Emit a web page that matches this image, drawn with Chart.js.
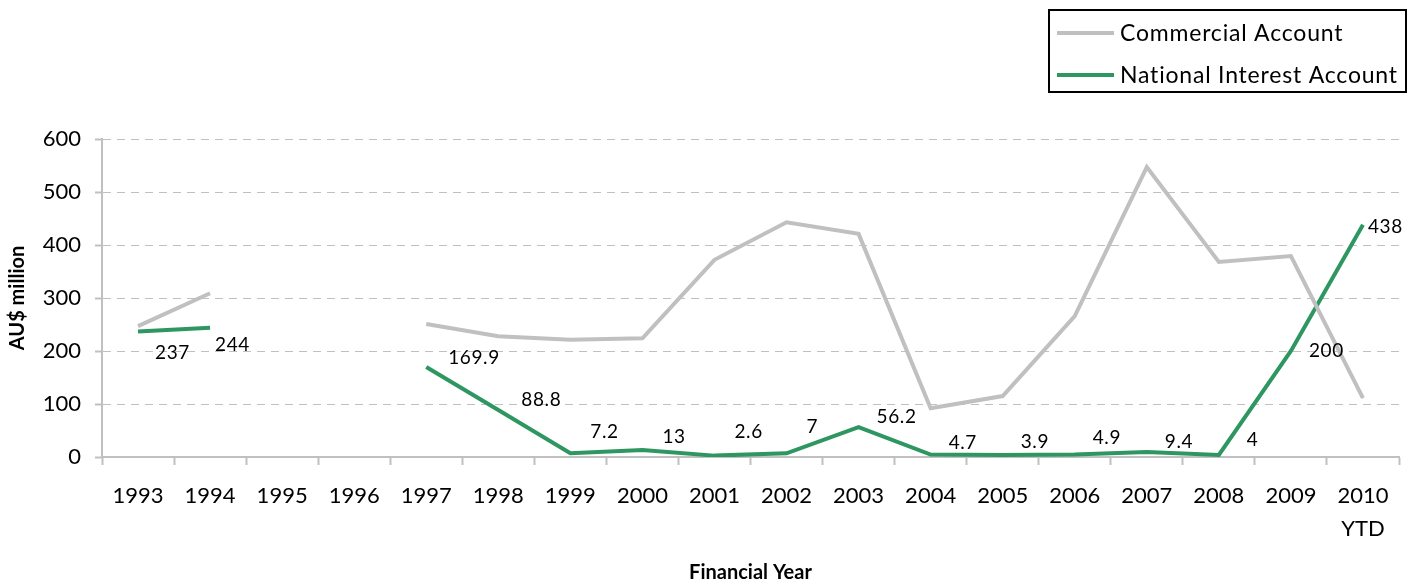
<!DOCTYPE html>
<html>
<head>
<meta charset="utf-8">
<script src="https://cdn.jsdelivr.net/npm/chart.js@4.4.1/dist/chart.umd.min.js"></script>
<style>
  html, body { margin: 0; padding: 0; background: #fff; }
  #wrap { position: relative; width: 1418px; height: 585px; }
</style>
</head>
<body>
<div id="wrap"><canvas id="myChart"></canvas></div>
<script>
const years = ["1993", "1994", "1995", "1996", "1997", "1998", "1999", "2000", "2001",
  "2002", "2003", "2004", "2005", "2006", "2007", "2008", "2009", ["2010", "YTD"]];
const commercial = [247, 309, null, null, 251, 228, 221, 224, 372,
  443, 421, 92, 115, 266, 547, 368, 379, 111];
const nationalInterest = [237, 244, null, null, 169.9, 88.8, 7.2, 13, 2.6,
  7, 56.2, 4.7, 3.9, 4.9, 9.4, 4, 200, 438];
const yTicks = [0, 100, 200, 300, 400, 500, 600];

// where each value label sits relative to its point (px)
const labelDx = [17, 5, 0, 0, 22, 23, 20, 20, 20, 20, 18, 18, 18, 18, 18, 28, 18, 5];
const labelDy = [21, 17, 0, 0, -9, -10, -21, -13, -24, -26, -10, -12, -13, -17, -10, -15, 0, 2];

const FONT = "Lato, 'Open Sans', sans-serif";
const GREY = "#c0c0c0";
const GREEN = "#2e9660";

const valueLabels = {
  id: "valueLabels",
  afterDatasetsDraw(chart) {
    const ctx = chart.ctx;
    const meta = chart.getDatasetMeta(1);
    ctx.save();
    ctx.font = "19px " + FONT;
    ctx.letterSpacing = "0.6px";
    ctx.fillStyle = "#000";
    ctx.textAlign = "left";
    ctx.textBaseline = "middle";
    meta.data.forEach((pt, i) => {
      const v = nationalInterest[i];
      if (v === null) return;
      ctx.fillText(String(v), pt.x + labelDx[i], pt.y + labelDy[i]);
    });
    ctx.restore();
  }
};

const boxLegend = {
  id: "boxLegend",
  afterDraw(chart) {
    const ctx = chart.ctx;
    ctx.save();
    ctx.strokeStyle = "#000";
    ctx.lineWidth = 2;
    ctx.strokeRect(1049, 10, 357, 82);
    ctx.font = "23px " + FONT;
    ctx.letterSpacing = "0.8px";
    ctx.textBaseline = "middle";
    ctx.textAlign = "left";
    chart.data.datasets.forEach((ds, i) => {
      const y = 33 + i * 42;
      ctx.strokeStyle = ds.borderColor;
      ctx.lineWidth = 4;
      ctx.beginPath();
      ctx.moveTo(1057, y);
      ctx.lineTo(1114, y);
      ctx.stroke();
      ctx.fillStyle = "#000";
      ctx.fillText(ds.label, 1120, y + 1);
    });
    ctx.restore();
  }
};

const ctx = document.getElementById("myChart").getContext("2d");
new Chart(ctx, {
  type: "line",
  data: {
    labels: years,
    datasets: [
      {
        label: "Commercial Account",
        data: commercial,
        borderColor: GREY,
        borderWidth: 4,
        pointRadius: 0,
        spanGaps: false,
        tension: 0
      },
      {
        label: "National Interest Account",
        data: nationalInterest,
        borderColor: GREEN,
        borderWidth: 4,
        pointRadius: 0,
        spanGaps: false,
        tension: 0
      }
    ]
  },
  options: {
    responsive: true,
    maintainAspectRatio: false,
    animation: false,
    layout: { padding: { top: 139, right: 19, left: 0, bottom: 0 } },
    plugins: {
      legend: { display: false },
      tooltip: { enabled: false }
    },
    scales: {
      x: {
        offset: true,
        grid: {
          offset: true,
          drawOnChartArea: false,
          drawTicks: true,
          tickLength: 8,
          tickColor: GREY,
          tickWidth: 2
        },
        border: { color: GREY, width: 2 },
        ticks: {
          color: "#000",
          font: { family: FONT, size: 22, lineHeight: 1.5 },
          padding: 14,
          maxRotation: 0,
          autoSkip: false
        },
        title: {
          display: true,
          text: "Financial Year",
          color: "#000",
          font: { family: FONT, size: 20, weight: "bold" },
          padding: { top: 0, bottom: 0 }
        },
        afterFit(scale) { scale.height = 128; }
      },
      y: {
        min: 0,
        max: 600,
        afterBuildTicks(scale) { scale.ticks = yTicks.map(v => ({ value: v })); },
        grid: {
          color: GREY,
          lineWidth: 1,
          drawTicks: true,
          tickLength: 7,
          tickColor: GREY,
          tickWidth: 2,
          tickBorderDash: []
        },
        border: { color: GREY, width: 2, dash: [8, 6] },
        ticks: {
          color: "#000",
          font: { family: FONT, size: 22 },
          padding: 14
        },
        title: {
          display: true,
          text: "AU$ million",
          color: "#000",
          font: { family: FONT, size: 20, weight: "bold" },
          padding: { top: 6, bottom: 6 }
        },
        afterFit(scale) { scale.width = 102; }
      }
    }
  },
  plugins: [valueLabels, boxLegend]
});
</script>
</body>
</html>
